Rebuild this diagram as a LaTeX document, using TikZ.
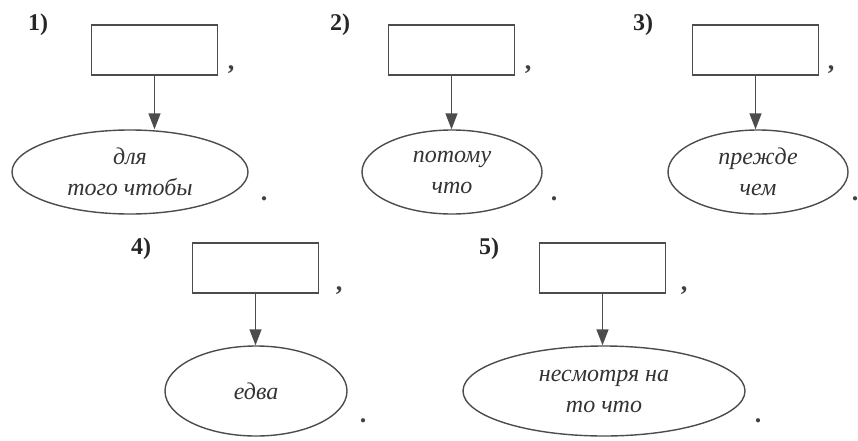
\documentclass[tikz,border=0pt]{standalone}
\usepackage{fontspec}
\setmainfont{Liberation Serif}
\usetikzlibrary{shapes.geometric,arrows.meta}

\begin{document}
\begin{tikzpicture}[x=1pt,y=-1pt,
        blank/.style={draw=black!70,line width=1.4pt,minimum width=126pt,minimum height=50pt,inner sep=0pt},
        oval/.style={ellipse,draw=black!70,line width=1.4pt,inner sep=0pt,align=center,text=black!80,font=\fontsize{24}{31}\selectfont\itshape},
        num/.style={font=\fontsize{24}{26}\selectfont\bfseries,text=black!85},
        punct/.style={anchor=base,inner sep=0pt,font=\fontsize{26}{28}\selectfont\bfseries,text=black!75},
        link/.style={draw=black!70,line width=1.4pt,-{Triangle[length=16pt,width=12pt]}}]
    \useasboundingbox (0,0) rectangle (858,441);

    % 1)
    \node[num] (n1) at (38,25) {1)};
    \node[blank] (b1) at (154.5,50) {};
    \node[punct] (c1) at (231,70) {,};
    \node[oval,minimum width=236pt,minimum height=84pt] (e1) at (130,172) {для\\того чтобы};
    \node[punct] (p1) at (264,200) {.};
    \draw[link] (b1.south) -- (b1.south |- e1.north);

    % 2)
    \node[num] (n2) at (340,25) {2)};
    \node[blank] (b2) at (451.5,50) {};
    \node[punct] (c2) at (528,70) {,};
    \node[oval,minimum width=180pt,minimum height=84pt] (e2) at (452,172) {потому\\что};
    \node[punct] (p2) at (554,200) {.};
    \draw[link] (b2.south) -- (b2.south |- e2.north);

    % 3)
    \node[num] (n3) at (643,25) {3)};
    \node[blank] (b3) at (755.5,50) {};
    \node[punct] (c3) at (831,70) {,};
    \node[oval,minimum width=180pt,minimum height=84pt] (e3) at (758,172) {прежде\\чем};
    \node[punct] (p3) at (855,200) {.};
    \draw[link] (b3.south) -- (b3.south |- e3.north);

    % 4)
    \node[num] (n4) at (141,249) {4)};
    \node[blank] (b4) at (255.5,268) {};
    \node[punct] (c4) at (339,290) {,};
    \node[oval,minimum width=182pt,minimum height=90pt] (e4) at (256,391) {едва};
    \node[punct] (p4) at (363,422) {.};
    \draw[link] (b4.south) -- (b4.south |- e4.north);

    % 5)
    \node[num] (n5) at (489,249) {5)};
    \node[blank] (b5) at (602.5,268) {};
    \node[punct] (c5) at (684,290) {,};
    \node[oval,minimum width=282pt,minimum height=90pt] (e5) at (604,391) {несмотря на\\то что};
    \node[punct] (p5) at (758,422) {.};
    \draw[link] (b5.south) -- (b5.south |- e5.north);
\end{tikzpicture}
\end{document}
